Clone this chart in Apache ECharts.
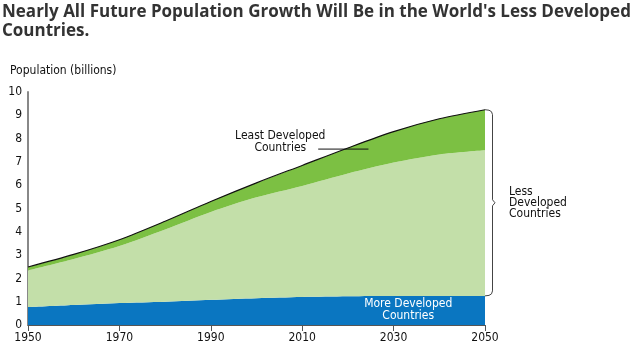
<!DOCTYPE html>
<html>
<head>
<meta charset="utf-8">
<script src="https://cdn.jsdelivr.net/npm/echarts@6/dist/echarts.min.js"></script>
<style>
  html, body { margin: 0; padding: 0; background: #fff; }
  #chart { width: 641px; height: 351px; }
</style>
</head>
<body>
<div id="chart"></div>
<script>
// years on the x axis (billions of people for each group)
const years = ['1950', '1960', '1970', '1980', '1990', '2000', '2010', '2020', '2030', '2040', '2050'];
const moreDeveloped = [0.77, 0.86, 0.94, 1.0, 1.08, 1.15, 1.2, 1.23, 1.24, 1.25, 1.25];
const lessDeveloped = [1.57, 1.97, 2.45, 3.1, 3.77, 4.33, 4.77, 5.27, 5.73, 6.07, 6.25];
const leastDeveloped = [0.15, 0.2, 0.27, 0.35, 0.45, 0.62, 0.88, 1.1, 1.33, 1.53, 1.74];
const yTicks = [0, 1, 2, 3, 4, 5, 6, 7, 8, 9, 10];

const font = '"DejaVu Sans Condensed", "DejaVu Sans", sans-serif';

var chartDom = document.getElementById('chart');
var myChart = echarts.init(chartDom);
var option = {
    animation: false,
    title: [
        {
            text: "Nearly All Future Population Growth Will Be in the World's Less Developed\nCountries.",
            left: 2, top: 3, padding: 0,
            textStyle: { fontFamily: 'Open Sans', fontWeight: 'bold', fontSize: 17, color: '#333', lineHeight: 19 }
        },
        {
            text: 'Population (billions)',
            left: 10, top: 65, padding: 0,
            textStyle: { fontFamily: font, fontWeight: 'normal', fontSize: 12, color: '#111' }
        }
    ],
    grid: { left: 28, right: 156, top: 92, bottom: 26, containLabel: false },
    xAxis: {
        type: 'category',
        data: years,
        boundaryGap: false,
        splitLine: { show: false },
        axisLine: { show: true, lineStyle: { color: '#555', width: 1 } },
        axisTick: { show: true, length: 6, interval: 1, lineStyle: { color: '#555' } },
        axisLabel: { color: '#111', fontFamily: font, fontSize: 12, margin: 7, interval: 1 }
    },
    yAxis: {
        type: 'value',
        min: yTicks[0], max: yTicks[yTicks.length - 1], interval: 1,
        splitLine: { show: false },
        axisLine: { show: true, lineStyle: { color: '#888', width: 2 } },
        axisTick: { show: false },
        axisLabel: { color: '#111', fontFamily: font, fontSize: 12, margin: 6 }
    },
    series: [
        {
            name: 'More Developed Countries',
            type: 'line', stack: 'pop', smooth: 0.3, symbol: 'none',
            lineStyle: { width: 0 },
            areaStyle: { color: '#0a76c1', opacity: 1 },
            data: moreDeveloped
        },
        {
            name: 'Less Developed Countries',
            type: 'line', stack: 'pop', smooth: 0.3, symbol: 'none',
            lineStyle: { width: 0 },
            areaStyle: { color: '#c3dfa9', opacity: 1 },
            data: lessDeveloped
        },
        {
            name: 'Least Developed Countries',
            type: 'line', stack: 'pop', smooth: 0.3, symbol: 'none',
            lineStyle: { width: 1.1, color: '#111' },
            areaStyle: { color: '#7cc043', opacity: 1 },
            data: leastDeveloped
        }
    ]
};
myChart.setOption(option);

// annotations placed from data coordinates (year -> pixel by interpolating the category axis)
const p0 = myChart.convertToPixel({ gridIndex: 0 }, [0, 0]);
const p1 = myChart.convertToPixel({ gridIndex: 0 }, [years.length - 1, 10]);
const px = (yr, v) => [
    p0[0] + (yr - 1950) / 100 * (p1[0] - p0[0]),
    p0[1] + v / 10 * (p1[1] - p0[1])
];
const last = years.length - 1;
const total2050 = moreDeveloped[last] + lessDeveloped[last] + leastDeveloped[last];
const pTop = px(2050, total2050);
const pBot = px(2050, moreDeveloped[last]);
const bx = pTop[0];
const mid = (pTop[1] + pBot[1]) / 2;
const bracePts = [
    [bx, pTop[1]], [bx + 4, pTop[1] + 0.5], [bx + 6.5, pTop[1] + 2], [bx + 7.5, pTop[1] + 5],
    [bx + 7.5, mid - 3], [bx + 10, mid], [bx + 7.5, mid + 3],
    [bx + 7.5, pBot[1] - 5], [bx + 6.5, pBot[1] - 2], [bx + 4, pBot[1] - 0.5], [bx, pBot[1]]
];
const leadA = px(2013.5, 7.55);
const leadB = px(2024.5, 7.55);
const leastLbl = px(2005.2, 7.86);
const moreLbl = px(2033.2, 0.64);

myChart.setOption({
    graphic: [
        {
            type: 'polyline', z: 100, shape: { points: bracePts },
            style: { stroke: '#444', lineWidth: 1, fill: null }
        },
        {
            type: 'line', z: 100, shape: { x1: leadA[0], y1: leadA[1], x2: leadB[0], y2: leadB[1] },
            style: { stroke: '#111', lineWidth: 1 }
        },
        {
            type: 'text', z: 100, x: bx + 24, y: mid,
            style: { text: 'Less\nDeveloped\nCountries', font: '12px ' + font, fill: '#111', lineHeight: 11, verticalAlign: 'middle' }
        },
        {
            type: 'text', z: 100, x: leastLbl[0], y: leastLbl[1],
            style: { text: 'Least Developed\nCountries', font: '12px ' + font, fill: '#111', lineHeight: 12, align: 'center', verticalAlign: 'middle' }
        },
        {
            type: 'text', z: 100, x: moreLbl[0], y: moreLbl[1],
            style: { text: 'More Developed\nCountries', font: '12px ' + font, fill: '#fff', lineHeight: 12, align: 'center', verticalAlign: 'middle' }
        }
    ]
});
</script>
</body>
</html>
